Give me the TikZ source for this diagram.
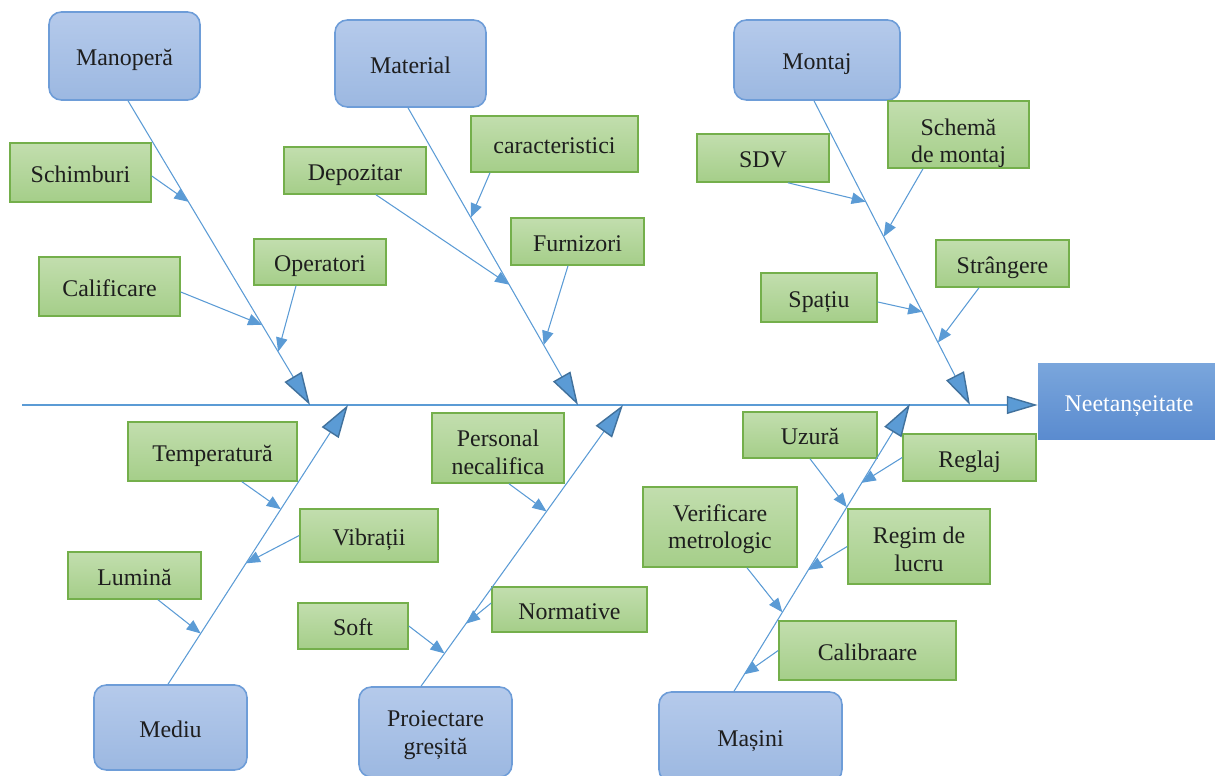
\documentclass[tikz,border=0pt]{standalone}
\usepackage{fontspec}
\setmainfont{Liberation Serif}
\usetikzlibrary{arrows.meta,calc}
\definecolor{lnblue}{HTML}{5B9BD5}
\definecolor{dkblue}{HTML}{41719C}
\definecolor{catTop}{HTML}{B5CAEB}
\definecolor{catBot}{HTML}{9CB8E1}
\definecolor{catBrd}{HTML}{6E9DD8}
\definecolor{grTop}{HTML}{C2DEAE}
\definecolor{grBot}{HTML}{A5CE89}
\definecolor{grBrd}{HTML}{74AF4B}
\definecolor{hdTop}{HTML}{7AA6DC}
\definecolor{hdBot}{HTML}{5A8BCF}
\definecolor{txtcol}{HTML}{1E1E1E}
\newcommand\boxfont{\fontsize{13.6}{15.6}\selectfont}
\tikzset{
  wordbox/.style={execute at begin node={\rule{0pt}{14pt}}, execute at end node={\rule[-3pt]{0pt}{0pt}}},
  boxshape/.style={line width=0.9pt, font=\boxfont, text=txtcol, align=center, inner sep=0pt},
  catbox/.style={boxshape, rounded corners=7pt, draw=catBrd, top color=catTop, bottom color=catBot},
  grbox/.style={boxshape, draw=grBrd, top color=grTop, bottom color=grBot},
  headbox/.style={wordbox, draw=none, top color=hdTop, bottom color=hdBot, font=\boxfont, text=white, align=center, inner sep=0pt},
  linetext/.style={font=\boxfont, text=txtcol, align=center, inner sep=0pt},
  bone/.style={draw=lnblue, line width=0.6pt, -{Triangle[length=18.7pt,width=11.3pt,fill=lnblue,color=dkblue,line width=0.8pt]}},
  spine/.style={draw=lnblue, line width=0.6pt, -{Triangle[length=17.6pt,width=10.2pt,fill=lnblue,color=dkblue,line width=0.8pt]}},
  subarrow/.style={draw=lnblue, line width=0.6pt, -{Triangle[length=8pt,width=6.5pt]}}
}
\begin{document}
\begin{tikzpicture}[x=0.02cm,y=-0.02cm]
\useasboundingbox (0,0) rectangle (1215,776);

% head
\node[headbox, minimum width=3.64cm, minimum height=1.54cm] (head) at (1129,401.5) {Neetanșeitate};

% categories
\node[catbox, wordbox, minimum width=3.02cm, minimum height=1.76cm] (man) at (124.5,56) {Manoperă};
\node[catbox, wordbox, minimum width=3.02cm, minimum height=1.74cm] (mat) at (410.5,63.5) {Material};
\node[catbox, wordbox, minimum width=3.32cm, minimum height=1.6cm] (mon) at (817,60) {Montaj};
\node[catbox, wordbox, minimum width=3.06cm, minimum height=1.7cm] (med) at (170.5,727.5) {Mediu};
\node[catbox, minimum width=3.06cm, minimum height=1.8cm,
  label={[linetext, yshift=-0.06cm]center:Proiectare\\greșită}] (pro) at (435.5,732) {};
\node[catbox, wordbox, minimum width=3.66cm, minimum height=1.8cm] (mas) at (750.5,737) {Mașini};

% sub-causes
\node[grbox, wordbox, minimum width=2.82cm, minimum height=1.18cm] (schimburi) at (80.5,172.5) {Schimburi};
\node[grbox, wordbox, minimum width=2.82cm, minimum height=1.18cm] (calificare) at (109.5,286.5) {Calificare};
\node[grbox, wordbox, minimum width=2.64cm, minimum height=0.92cm] (operatori) at (320,262) {Operatori};
\node[grbox, wordbox, minimum width=2.84cm, minimum height=0.94cm] (depozitar) at (355,170.5) {Depozitar};
\node[grbox, wordbox, minimum width=3.34cm, minimum height=1.12cm] (caract) at (554.5,144) {caracteristici};
\node[grbox, wordbox, minimum width=2.66cm, minimum height=0.94cm] (furnizori) at (577.5,241.5) {Furnizori};
\node[grbox, wordbox, minimum width=2.64cm, minimum height=0.96cm] (sdv) at (763,158) {SDV};
\node[grbox, minimum width=2.82cm, minimum height=1.34cm] (schema) at (958.5,134.5) {};
\begin{scope}
  \clip ([shift={(0.45pt,0.45pt)}]schema.south west) rectangle ([shift={(-0.45pt,-0.45pt)}]schema.north east);
  \node[linetext] (schematext) at ([yshift=-0.17cm]schema.center) {Schemă\\de montaj};
\end{scope}
\node[grbox, wordbox, minimum width=2.66cm, minimum height=0.94cm] (strangere) at (1002.5,263.5) {Strângere};
\node[grbox, wordbox, minimum width=2.32cm, minimum height=0.98cm] (spatiu) at (819,297.5) {Spațiu};
\node[grbox, wordbox, minimum width=3.38cm, minimum height=1.18cm] (temp) at (212.5,451.5) {Temperatură};
\node[grbox, wordbox, minimum width=2.76cm, minimum height=1.06cm] (vibratii) at (369,535.5) {Vibrații};
\node[grbox, wordbox, minimum width=2.66cm, minimum height=0.94cm] (lumina) at (134.5,575.5) {Lumină};
\node[grbox, minimum width=2.64cm, minimum height=1.4cm,
  label={[linetext, yshift=-0.09cm]center:Personal\\necalifica}] (personal) at (498,448) {};
\node[grbox, wordbox, minimum width=2.2cm, minimum height=0.92cm] (soft) at (353,626) {Soft};
\node[grbox, wordbox, minimum width=3.1cm, minimum height=0.9cm] (normative) at (569.5,609.5) {Normative};
\node[grbox, wordbox, minimum width=2.68cm, minimum height=0.92cm] (uzura) at (810,435) {Uzură};
\node[grbox, wordbox, minimum width=2.66cm, minimum height=0.94cm] (reglaj) at (969.5,457.5) {Reglaj};
\node[grbox, minimum width=3.08cm, minimum height=1.6cm,
  label={[linetext, yshift=-0.04cm]center:Verificare\\metrologic}] (verif) at (720,527) {};
\node[grbox, minimum width=2.84cm, minimum height=1.5cm,
  label={[linetext, yshift=-0.06cm]center:Regim de\\lucru}] (regim) at (919,546.5) {};
\node[grbox, wordbox, minimum width=3.54cm, minimum height=1.18cm] (calib) at (867.5,650.5) {Calibraare};

% spine
\coordinate (spineS) at (22,405);
\draw[spine] (spineS) -- (spineS -| head.west);

% bone starts and tips
\coordinate (b1s) at ([xshift=0.07cm]man.south);
\coordinate (b2s) at ([xshift=-0.05cm]mat.south);
\coordinate (b3s) at ([xshift=-0.06cm]mon.south);
\coordinate (b4s) at ([xshift=-0.05cm]med.north);
\coordinate (b5s) at ([xshift=-0.29cm]pro.north);
\coordinate (b6s) at ([xshift=-0.33cm]mas.north);
\coordinate (T1) at (310,405);
\coordinate (T2) at (578,405);
\coordinate (T3) at (970,405);
\coordinate (T4) at (348,405);
\coordinate (T5) at (623,405);
\coordinate (T6) at (910,404);
\draw[bone] (b1s) -- (T1);
\draw[bone] (b2s) -- (T2);
\draw[bone] (b3s) -- (T3);
\draw[bone] (b4s) -- (T4);
\draw[bone] (b5s) -- (T5);
\draw[bone] (b6s) -- (T6);

% arrow tips on bones
\coordinate (tSch) at ($(b1s)!(188,202)!(T1)$);
\coordinate (tCal) at ($(b1s)!(262,325)!(T1)$);
\coordinate (tOpe) at ($(b1s)!(281,350)!(T1)$);
\coordinate (tDep) at ($(b2s)!(505,287)!(T2)$);
\coordinate (tCar) at ($(b2s)!(470,218)!(T2)$);
\coordinate (tFur) at ($(b2s)!(542,346)!(T2)$);
\coordinate (tSdv) at ($(b3s)!(865,202)!(T3)$);
\coordinate (tSchema) at ($(b3s)!(885,236)!(T3)$);
\coordinate (tSpa) at ($(b3s)!(918,314)!(T3)$);
\coordinate (tStr) at ($(b3s)!(935,344)!(T3)$);
\coordinate (tTem) at ($(b4s)!(279,508)!(T4)$);
\coordinate (tVib) at ($(b4s)!(247,564)!(T4)$);
\coordinate (tLum) at ($(b4s)!(200,633)!(T4)$);
\coordinate (tPer) at ($(b5s)!(546,511)!(T5)$);
\coordinate (tNor) at ($(b5s)!(465,623)!(T5)$);
\coordinate (tSof) at ($(b5s)!(444,653)!(T5)$);
\coordinate (tUzu) at ($(b6s)!(845,506)!(T6)$);
\coordinate (tReg) at ($(b6s)!(862,483)!(T6)$);
\coordinate (tRegim) at ($(b6s)!(810,571)!(T6)$);
\coordinate (tVer) at ($(b6s)!(782,612)!(T6)$);
\coordinate (tCalib) at ($(b6s)!(744,674)!(T6)$);

\draw[subarrow] ([yshift=-0.07cm]schimburi.east) -- (tSch);
\draw[subarrow] ([yshift=-0.11cm]calificare.east) -- (tCal);
\draw[subarrow] ([xshift=-0.48cm]operatori.south) -- (tOpe);
\draw[subarrow] ([xshift=0.42cm]depozitar.south) -- (tDep);
\draw[subarrow] ([xshift=-1.29cm]caract.south) -- (tCar);
\draw[subarrow] ([xshift=-0.19cm]furnizori.south) -- (tFur);
\draw[subarrow] ([xshift=0.5cm]sdv.south) -- (tSdv);
\draw[subarrow] ([xshift=-0.71cm]schema.south) -- (tSchema);
\draw[subarrow] ([yshift=-0.09cm]spatiu.east) -- (tSpa);
\draw[subarrow] ([xshift=-0.47cm]strangere.south) -- (tStr);
\draw[subarrow] ([xshift=0.59cm]temp.south) -- (tTem);
\draw[subarrow] (vibratii.west) -- (tVib);
\draw[subarrow] ([xshift=0.47cm]lumina.south) -- (tLum);
\draw[subarrow] ([xshift=0.22cm]personal.south) -- (tPer);
\draw[subarrow] ([yshift=0.13cm]normative.west) -- (tNor);
\draw[subarrow] (soft.east) -- (tSof);
\draw[subarrow] (uzura.south) -- (tUzu);
\draw[subarrow] (reglaj.west) -- (tReg);
\draw[subarrow] (regim.west) -- (tRegim);
\draw[subarrow] ([xshift=0.54cm]verif.south) -- (tVer);
\draw[subarrow] (calib.west) -- (tCalib);
\end{tikzpicture}
\end{document}
